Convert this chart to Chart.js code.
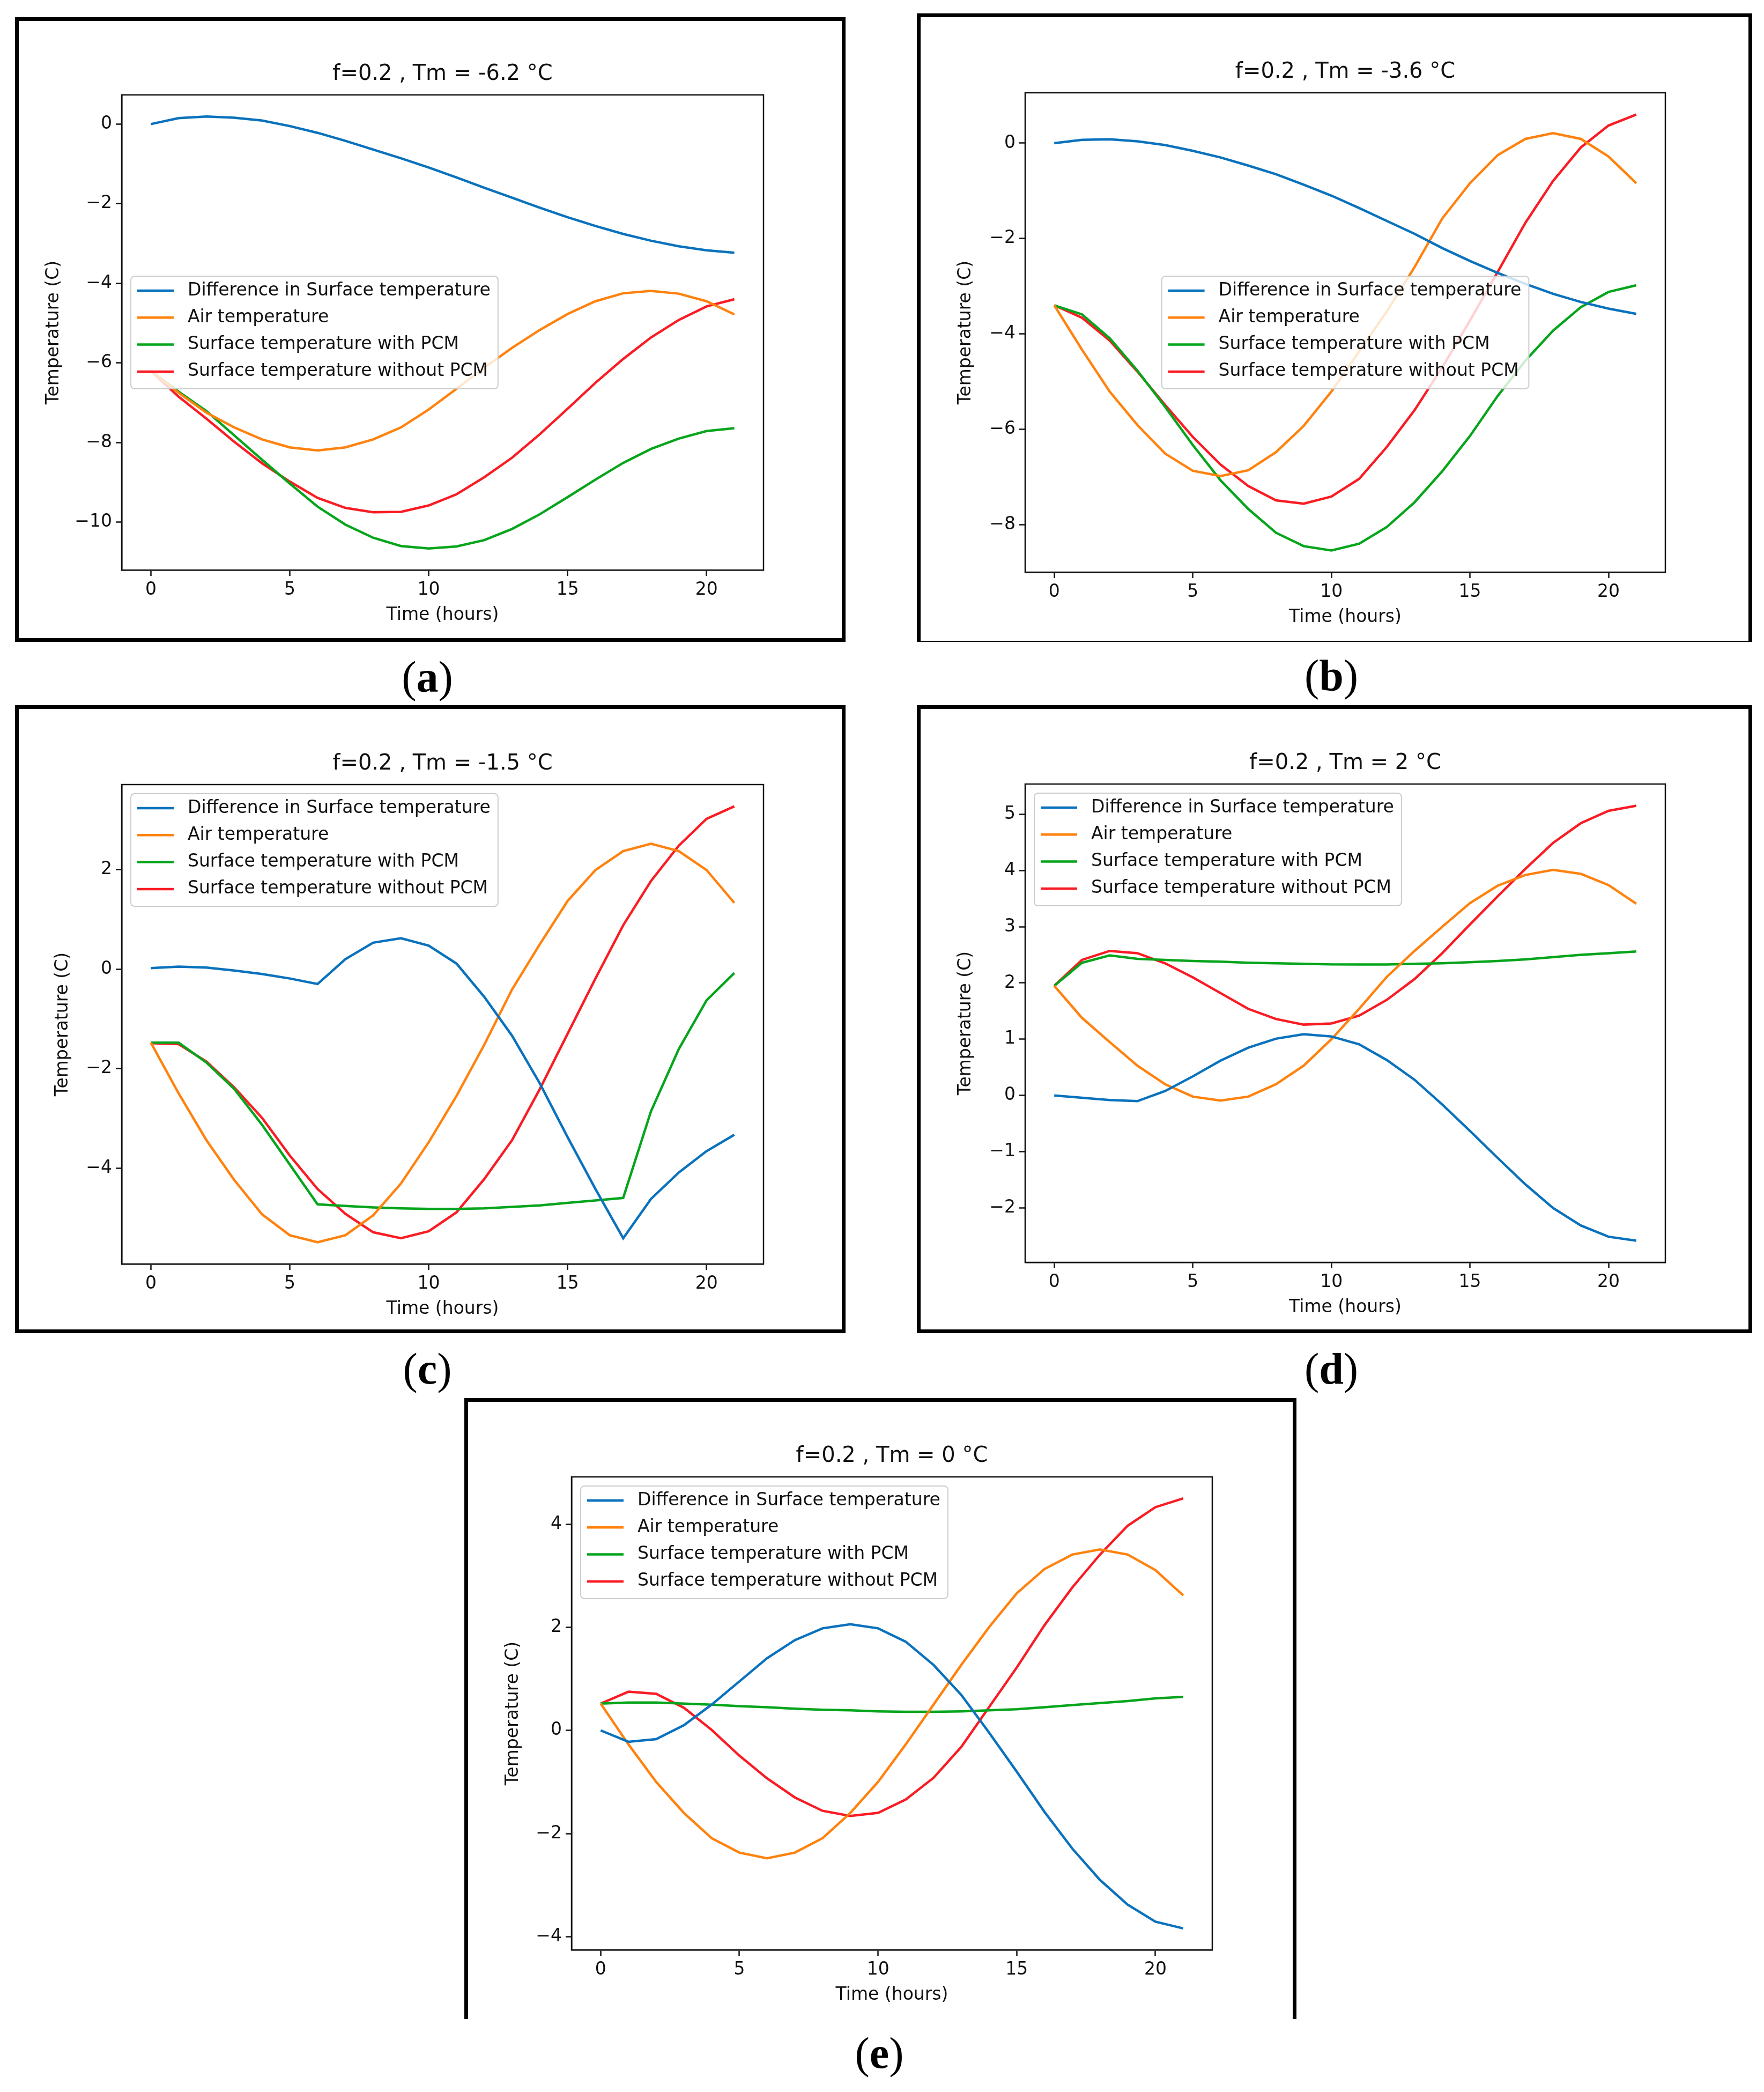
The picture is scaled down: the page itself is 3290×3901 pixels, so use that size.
<!DOCTYPE html>
<html>
<head>
<meta charset="utf-8">
<script src="https://cdn.jsdelivr.net/npm/chart.js@4.4.1/dist/chart.umd.min.js"></script>
<style>
  html, body { margin: 0; padding: 0; background: #fff; }
  body { width: 3290px; height: 3901px; position: relative; overflow: hidden; }
  .box { position: absolute; box-sizing: border-box; border: 7px solid #000; }
  canvas { position: absolute; }
  .tag { position: absolute; font-family: "Liberation Serif", "DejaVu Serif", serif; font-size: 82px;
         transform: translate(-50%, -50%); white-space: nowrap; color: #000; line-height: 1; }
</style>
</head>
<body>
<div class="box" style="left:28px;top:32px;width:1549px;height:1165px"></div>
<div class="box" style="left:1710px;top:25px;width:1558px;height:1172px;border-bottom-width:2px"></div>
<div class="box" style="left:28px;top:1315px;width:1549px;height:1171px"></div>
<div class="box" style="left:1710px;top:1315px;width:1558px;height:1171px"></div>
<div class="box" style="left:866px;top:2607px;width:1552px;height:1158px;border-bottom-width:0"></div>

<canvas id="ca"></canvas>
<canvas id="cb"></canvas>
<canvas id="cc"></canvas>
<canvas id="cd"></canvas>
<canvas id="ce"></canvas>

<div class="tag" style="left:797px;top:1263px">(<b>a</b>)</div>
<div class="tag" style="left:2483px;top:1260px">(<b>b</b>)</div>
<div class="tag" style="left:797px;top:2553px">(<b>c</b>)</div>
<div class="tag" style="left:2483px;top:2553px">(<b>d</b>)</div>
<div class="tag" style="left:1640px;top:3829px">(<b>e</b>)</div>

<script>
// hours on the x axis
const hours = [0, 1, 2, 3, 4, 5, 6, 7, 8, 9, 10, 11, 12, 13, 14, 15, 16, 17, 18, 19, 20, 21];
const xTicks = [0, 5, 10, 15, 20];

const seriesLabels = [
  "Difference in Surface temperature",
  "Air temperature",
  "Surface temperature with PCM",
  "Surface temperature without PCM"
];
const seriesColors = ["#0a72bd", "#ff820e", "#06a51c", "#fa1c24"];

// (a) Tm = -6.2
const diffA = [0, 0.15, 0.19, 0.16, 0.09, -0.05, -0.22, -0.42, -0.64, -0.86, -1.09, -1.34, -1.6, -1.85, -2.1, -2.34, -2.56, -2.76, -2.93, -3.07, -3.17, -3.23];
const airA = [-6.2, -6.75, -7.25, -7.62, -7.92, -8.12, -8.2, -8.12, -7.92, -7.62, -7.17, -6.65, -6.12, -5.62, -5.17, -4.77, -4.45, -4.25, -4.19, -4.26, -4.45, -4.78];
const withA = [-6.2, -6.72, -7.21, -7.82, -8.43, -9.03, -9.61, -10.06, -10.39, -10.6, -10.66, -10.61, -10.45, -10.17, -9.8, -9.37, -8.93, -8.51, -8.16, -7.9, -7.71, -7.64];
const withoutA = [-6.2, -6.85, -7.4, -7.98, -8.52, -8.98, -9.39, -9.64, -9.75, -9.74, -9.58, -9.3, -8.87, -8.38, -7.79, -7.15, -6.5, -5.9, -5.36, -4.92, -4.58, -4.4];
const yTicksA = [-10, -8, -6, -4, -2, 0];

// (b) Tm = -3.6
const diffB = [0, 0.07, 0.08, 0.04, -0.04, -0.16, -0.3, -0.47, -0.65, -0.87, -1.1, -1.36, -1.63, -1.9, -2.2, -2.47, -2.72, -2.95, -3.16, -3.33, -3.47, -3.58];
const airB = [-3.4, -4.33, -5.21, -5.91, -6.51, -6.87, -6.98, -6.86, -6.48, -5.93, -5.21, -4.37, -3.53, -2.6, -1.58, -0.84, -0.25, 0.09, 0.21, 0.09, -0.28, -0.84];
const withB = [-3.4, -3.59, -4.09, -4.77, -5.53, -6.33, -7.07, -7.67, -8.17, -8.45, -8.54, -8.4, -8.05, -7.53, -6.88, -6.14, -5.3, -4.56, -3.93, -3.44, -3.12, -2.98];
const withoutB = [-3.4, -3.66, -4.14, -4.79, -5.49, -6.16, -6.74, -7.19, -7.49, -7.56, -7.41, -7.04, -6.37, -5.6, -4.7, -3.72, -2.7, -1.67, -0.79, -0.09, 0.37, 0.6];
const yTicksB = [-8, -6, -4, -2, 0];

// (c) Tm = -1.5
const diffC = [0.02, 0.05, 0.03, -0.03, -0.1, -0.19, -0.3, 0.2, 0.53, 0.62, 0.47, 0.11, -0.56, -1.34, -2.3, -3.38, -4.42, -5.41, -4.62, -4.09, -3.66, -3.33];
const airC = [-1.48, -2.5, -3.44, -4.24, -4.93, -5.35, -5.49, -5.35, -4.95, -4.31, -3.48, -2.55, -1.52, -0.41, 0.5, 1.37, 1.99, 2.37, 2.52, 2.37, 1.99, 1.33];
const withC = [-1.48, -1.48, -1.88, -2.41, -3.13, -3.93, -4.73, -4.76, -4.79, -4.81, -4.82, -4.82, -4.81, -4.78, -4.75, -4.7, -4.65, -4.6, -2.86, -1.61, -0.63, -0.08];
const withoutC = [-1.49, -1.51, -1.86, -2.38, -2.99, -3.75, -4.42, -4.92, -5.29, -5.41, -5.27, -4.89, -4.22, -3.44, -2.41, -1.3, -0.19, 0.88, 1.77, 2.48, 3.02, 3.27];
const yTicksC = [-4, -2, 0, 2];

// (d) Tm = 2
const diffD = [0, -0.04, -0.08, -0.1, 0.08, 0.34, 0.62, 0.85, 1.01, 1.09, 1.05, 0.91, 0.63, 0.28, -0.16, -0.63, -1.11, -1.58, -2.0, -2.31, -2.51, -2.58];
const airD = [1.95, 1.38, 0.95, 0.53, 0.2, -0.02, -0.09, -0.02, 0.2, 0.53, 1.0, 1.54, 2.11, 2.57, 3.0, 3.42, 3.73, 3.92, 4.01, 3.94, 3.74, 3.41];
const withD = [1.95, 2.36, 2.49, 2.43, 2.41, 2.39, 2.38, 2.36, 2.35, 2.34, 2.33, 2.33, 2.33, 2.34, 2.35, 2.37, 2.39, 2.42, 2.46, 2.5, 2.53, 2.56];
const withoutD = [1.95, 2.41, 2.57, 2.53, 2.35, 2.1, 1.82, 1.54, 1.36, 1.26, 1.28, 1.42, 1.7, 2.07, 2.53, 3.04, 3.54, 4.03, 4.49, 4.84, 5.06, 5.15];
const yTicksD = [-2, -1, 0, 1, 2, 3, 4, 5];

// (e) Tm = 0
const diffE = [0, -0.22, -0.17, 0.1, 0.5, 0.95, 1.4, 1.75, 1.98, 2.06, 1.98, 1.72, 1.27, 0.69, -0.04, -0.8, -1.58, -2.29, -2.9, -3.38, -3.71, -3.84];
const airE = [0.52, -0.27, -1.0, -1.6, -2.09, -2.37, -2.48, -2.37, -2.09, -1.6, -1.0, -0.27, 0.5, 1.27, 2.0, 2.66, 3.13, 3.41, 3.51, 3.41, 3.11, 2.62];
const withE = [0.52, 0.54, 0.54, 0.52, 0.5, 0.47, 0.45, 0.42, 0.4, 0.39, 0.37, 0.36, 0.36, 0.37, 0.39, 0.41, 0.45, 0.49, 0.53, 0.57, 0.62, 0.65];
const withoutE = [0.52, 0.75, 0.71, 0.44, 0.01, -0.49, -0.93, -1.3, -1.56, -1.66, -1.6, -1.34, -0.92, -0.32, 0.45, 1.22, 2.04, 2.77, 3.41, 3.97, 4.33, 4.5];
const yTicksE = [-4, -2, 0, 2, 4];

Chart.defaults.font.family = "'DejaVu Sans', sans-serif";
Chart.defaults.font.size = 33;
Chart.defaults.color = "#111";

const FONT = "33px 'DejaVu Sans', sans-serif";
const Y_W = 160, X_H = 112, TOP_H = 62, RIGHT_PAD = 20;

// legend box like matplotlib's, drawn over the lines
const boxLegend = {
  id: "boxLegend",
  afterDatasetsDraw(chart, args, opts) {
    const ctx = chart.ctx, ca = chart.chartArea;
    const sets = chart.data.datasets;
    ctx.save();
    ctx.font = FONT;
    let tw = 0;
    sets.forEach(d => { tw = Math.max(tw, ctx.measureText(d.label).width); });
    const w = 12 + 68 + 26 + tw + 14, h = 210;
    let x = ca.left + 17, y = ca.top + 17;
    if (opts.where === "centerLeft") y = (ca.top + ca.bottom) / 2 - h / 2;
    if (opts.where === "center") {
      x = (ca.left + ca.right) / 2 - w / 2;
      y = (ca.top + ca.bottom) / 2 - h / 2;
    }
    ctx.beginPath();
    ctx.roundRect(x, y, w, h, 7);
    ctx.fillStyle = "rgba(255,255,255,0.8)";
    ctx.fill();
    ctx.lineWidth = 2;
    ctx.strokeStyle = "#cccccc";
    ctx.stroke();
    ctx.textBaseline = "middle";
    ctx.textAlign = "left";
    sets.forEach((d, i) => {
      const cy = y + 27 + i * 50.3;
      ctx.beginPath();
      ctx.moveTo(x + 12, cy);
      ctx.lineTo(x + 80, cy);
      ctx.strokeStyle = d.borderColor;
      ctx.lineWidth = 4.5;
      ctx.stroke();
      ctx.fillStyle = "#111";
      ctx.fillText(d.label, x + 106, cy);
    });
    ctx.restore();
  }
};

// top and right spines
const frame = {
  id: "frame",
  afterDraw(chart) {
    const ctx = chart.ctx, ca = chart.chartArea;
    ctx.save();
    ctx.strokeStyle = "#111";
    ctx.lineWidth = 2.5;
    ctx.strokeRect(ca.left, ca.top, ca.right - ca.left, ca.bottom - ca.top);
    ctx.restore();
  }
};

function minus(v) {
  return (v < 0 ? "\u2212" : "") + Math.abs(v);
}

function makePanel(id, plot, title, series, yTicks, where, yLabelOff) {
  const cv = document.getElementById(id);
  const pw = plot.r - plot.l, ph = plot.b - plot.t;
  cv.width = pw + Y_W + RIGHT_PAD;
  cv.height = ph + TOP_H + X_H;
  cv.style.left = (plot.l - Y_W) + "px";
  cv.style.top = (plot.t - TOP_H) + "px";

  const all = series.flat();
  const lo = Math.min(...all), hi = Math.max(...all), m = (hi - lo) * 0.05;

  new Chart(cv, {
    type: "line",
    data: {
      datasets: series.map((vals, k) => ({
        label: seriesLabels[k],
        data: hours.map((h, i) => ({ x: h, y: vals[i] })),
        borderColor: seriesColors[k],
        backgroundColor: seriesColors[k],
        borderWidth: 4.5,
        pointRadius: 0,
        tension: 0,
        fill: false
      }))
    },
    options: {
      responsive: false,
      animation: false,
      devicePixelRatio: 1,
      layout: { padding: { right: RIGHT_PAD, left: 0, top: 0, bottom: 0 } },
      plugins: {
        legend: { display: false },
        tooltip: { enabled: false },
        title: {
          display: true,
          fullSize: false,
          text: title,
          font: { size: 40, weight: "normal" },
          color: "#111",
          padding: { top: 0, bottom: 14 }
        },
        boxLegend: { where: where }
      },
      scales: {
        x: {
          type: "linear",
          min: -1.05,
          max: 22.05,
          afterBuildTicks: s => { s.ticks = xTicks.map(v => ({ value: v })); },
          afterFit: s => { s.height = X_H; },
          ticks: { padding: 7, autoSkip: false, maxRotation: 0, callback: v => minus(v) },
          grid: { drawOnChartArea: false, drawTicks: true, tickLength: 11, tickWidth: 2.5, tickColor: "#111" },
          border: { display: true, color: "#111", width: 2.5 },
          title: { display: true, text: "Time (hours)", padding: { top: 0, bottom: 8 } }
        },
        y: {
          type: "linear",
          min: lo - m,
          max: hi + m,
          afterBuildTicks: s => { s.ticks = yTicks.map(v => ({ value: v })); },
          afterFit: s => { s.width = Y_W; },
          ticks: { padding: 7, autoSkip: false, callback: v => minus(v) },
          grid: { drawOnChartArea: false, drawTicks: true, tickLength: 11, tickWidth: 2.5, tickColor: "#111" },
          border: { display: true, color: "#111", width: 2.5 },
          title: { display: true, text: "Temperature (C)", padding: { top: Y_W - yLabelOff - 19.8, bottom: 0 } }
        }
      }
    },
    plugins: [boxLegend, frame]
  });
}

makePanel("ca", { l: 227, t: 177, r: 1424, b: 1063 }, "f=0.2 , Tm = -6.2 \u00b0C",
  [diffA, airA, withA, withoutA], yTicksA, "centerLeft", 127);
makePanel("cb", { l: 1912, t: 173, r: 3106, b: 1067 }, "f=0.2 , Tm = -3.6 \u00b0C",
  [diffB, airB, withB, withoutB], yTicksB, "center", 111);
makePanel("cc", { l: 227, t: 1463, r: 1424, b: 2357 }, "f=0.2 , Tm = -1.5 \u00b0C",
  [diffC, airC, withC, withoutC], yTicksC, "upperLeft", 110);
makePanel("cd", { l: 1912, t: 1462, r: 3106, b: 2354 }, "f=0.2 , Tm = 2 \u00b0C",
  [diffD, airD, withD, withoutD], yTicksD, "upperLeft", 111);
makePanel("ce", { l: 1066, t: 2754, r: 2261, b: 3636 }, "f=0.2 , Tm = 0 \u00b0C",
  [diffE, airE, withE, withoutE], yTicksE, "upperLeft", 109);
</script>
</body>
</html>
